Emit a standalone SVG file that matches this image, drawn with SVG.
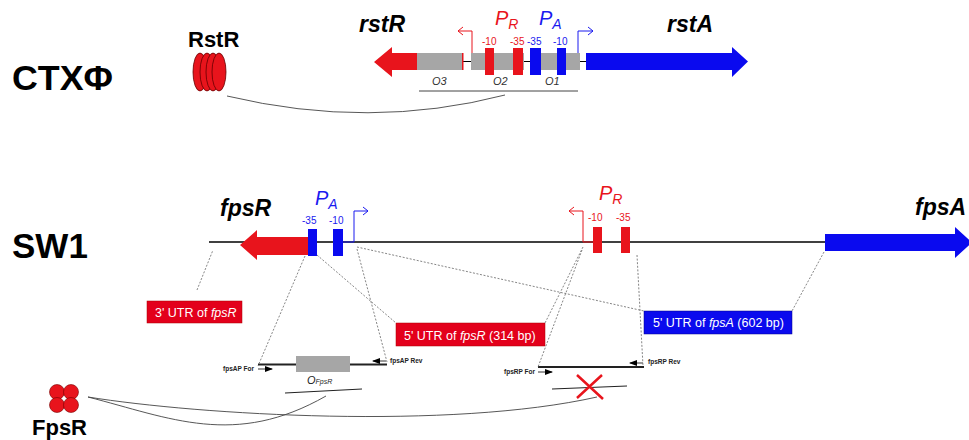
<svg xmlns="http://www.w3.org/2000/svg" width="969" height="440" viewBox="0 0 969 440">
<style>
text{font-family:"Liberation Sans",Arial,sans-serif}
.title{font-weight:bold;font-size:35px;fill:#000}
.prot{font-weight:bold;font-size:22px;fill:#000}
.gene{font-weight:bold;font-style:italic;font-size:23px;fill:#000}
.red{fill:#e8141c}
.blue{fill:#0a0aef}
.grey{fill:#a6a6a6}
.pr{fill:#e8141c;font-style:italic;font-size:20px}
.pa{fill:#1a1aef;font-style:italic;font-size:20px}
.sub{font-size:14px}
.numr{fill:#e8141c;font-size:10px}
.numb{fill:#1a1aef;font-size:10px}
.op{font-style:italic;font-size:11px;fill:#333}
.lbl{fill:#fff;font-size:12.5px}
.prim{font-weight:bold;font-size:6.5px;fill:#222}
.dot{fill:none;stroke:#777;stroke-width:0.9;stroke-dasharray:2 1.6}
.link{fill:none;stroke:#444;stroke-width:0.9}
.bentr{fill:none;stroke:#e8141c;stroke-width:1}
.bentb{fill:none;stroke:#1a1aef;stroke-width:1}
.axis{stroke:#000;stroke-width:1.6}
</style>
<defs>
<marker id="ah" markerWidth="8" markerHeight="6" refX="7" refY="3" orient="auto" markerUnits="userSpaceOnUse">
<path d="M0,0 L8,3 L0,6 Z" fill="#000"/>
</marker>
</defs>

<!-- titles -->
<g id="ctx-title"><text class="title" x="12" y="90" textLength="101" lengthAdjust="spacingAndGlyphs">CTXΦ</text></g>
<g id="sw1-title"><text class="title" x="12" y="258">SW1</text></g>

<!-- RstR protein -->
<g id="rstR-protein">
<text class="prot" x="188" y="47">RstR</text>
<ellipse class="red" cx="200" cy="72" rx="7" ry="19" stroke="#600" stroke-width="0.8"/>
<ellipse class="red" cx="207" cy="72" rx="7" ry="19" stroke="#600" stroke-width="0.8"/>
<ellipse class="red" cx="213" cy="72" rx="7" ry="19" stroke="#600" stroke-width="0.8"/>
<ellipse class="red" cx="219" cy="72" rx="7" ry="19" stroke="#600" stroke-width="0.8"/>
</g>

<!-- CTX construct -->
<g id="ctx-locus">
<line x1="460" y1="61.5" x2="590" y2="61.5" stroke="#000" stroke-width="1.2"/>
<path class="red" d="M374,62 L392,47 L392,53 L417,53 L417,70 L392,70 L392,77 Z"/>
<rect class="grey" x="417" y="53" width="46" height="17"/>
<rect class="red" x="462" y="53" width="1.5" height="17"/>
<rect class="grey" x="471" y="53" width="53" height="17"/>
<rect class="grey" x="530" y="53" width="50" height="17"/>
<rect class="red" x="485" y="48" width="9" height="27"/>
<rect class="red" x="513" y="48" width="10" height="27"/>
<rect class="blue" x="530" y="48" width="11" height="27"/>
<rect class="blue" x="557" y="48" width="9" height="27"/>
<path class="blue" d="M586,53 L732,53 L732,47 L748,61.5 L732,77 L732,70 L586,70 Z"/>
<path class="bentr" d="M472,53 V31 H458 M463,27 L458,31 L463,35"/>
<path class="bentb" d="M578,53 V31 H593 M588,27 L593,31 L588,35"/>
<text class="gene" x="359" y="32">rstR</text>
<text class="gene" x="667" y="32">rstA</text>
<text class="pr" x="495" y="25">P<tspan class="sub" dy="4">R</tspan></text>
<text class="pa" x="539" y="25">P<tspan class="sub" dy="4">A</tspan></text>
<text class="numr" x="482" y="45">-10</text>
<text class="numr" x="510" y="45">-35</text>
<text class="numb" x="527" y="45">-35</text>
<text class="numb" x="553" y="45">-10</text>
<text class="op" x="432" y="85">O3</text>
<text class="op" x="493" y="85">O2</text>
<text class="op" x="545" y="85">O1</text>
<line x1="419" y1="91" x2="578" y2="91" stroke="#444" stroke-width="1"/>
</g>

<!-- SW1 construct -->
<g id="sw1-locus">
<line class="axis" x1="209" y1="242" x2="826" y2="242"/>
<path class="red" d="M240,245 L257,230 L257,237 L308,237 L308,255 L257,255 L257,260 Z"/>
<rect class="blue" x="308" y="229" width="9" height="27"/>
<rect class="blue" x="333" y="229" width="10" height="27"/>
<path class="bentb" d="M343,242 H354 V211 H368 M363,207 L368,211 L363,215"/>
<text class="gene" x="220" y="216">fpsR</text>
<text class="pa" x="315" y="205">P<tspan class="sub" dy="4">A</tspan></text>
<text class="numb" x="302" y="224">-35</text>
<text class="numb" x="329" y="224">-10</text>
<rect class="red" x="593" y="227" width="9" height="26"/>
<rect class="red" x="621" y="227" width="9" height="26"/>
<path class="bentr" d="M593,242 H583 V211 H569 M574,207 L569,211 L574,215"/>
<text class="pr" x="599" y="200">P<tspan class="sub" dy="4">R</tspan></text>
<text class="numr" x="588" y="221">-10</text>
<text class="numr" x="616" y="221">-35</text>
<path class="blue" d="M825,234 L955,234 L955,227 L972,242.5 L955,258 L955,251 L825,251 Z"/>
<text class="gene" x="915" y="215">fpsA</text>
</g>

<!-- region labels -->
<g id="utr3-fpsR">
<rect x="147" y="301" width="95" height="22" fill="#e3001b" stroke="#a00" stroke-width="0.5"/>
<text class="lbl" x="155" y="316.5">3' UTR of <tspan font-style="italic">fpsR</tspan></text>
</g>
<g id="utr5-fpsR">
<rect x="396" y="323" width="149" height="23" fill="#e3001b" stroke="#a00" stroke-width="0.5"/>
<text class="lbl" x="404" y="339.5">5' UTR of <tspan font-style="italic">fpsR</tspan> (314 bp)</text>
</g>
<g id="utr5-fpsA">
<rect x="644" y="311" width="148" height="23" fill="#0a0aee" stroke="#008" stroke-width="0.5"/>
<text class="lbl" x="653" y="327">5' UTR of <tspan font-style="italic">fpsA</tspan> (602 bp)</text>
</g>

<!-- fpsAP probe -->
<g id="fpsAP-probe">
<line x1="258" y1="364.5" x2="387" y2="364.5" stroke="#222" stroke-width="2"/>
<rect class="grey" x="296" y="356" width="54" height="16"/>
<text class="prim" x="223" y="371">fpsAP For</text>
<line x1="258" y1="369" x2="272" y2="369" stroke="#000" stroke-width="0.8" marker-end="url(#ah)"/>
<line x1="386" y1="361" x2="373" y2="361" stroke="#000" stroke-width="0.8" marker-end="url(#ah)"/>
<text class="prim" x="390" y="363">fpsAP Rev</text>
<text x="307" y="384" font-style="italic" font-size="11" fill="#222">O<tspan font-size="7">FpsR</tspan></text>
<line x1="285" y1="393" x2="362" y2="389" stroke="#222" stroke-width="1.2"/>
</g>

<!-- fpsRP probe -->
<g id="fpsRP-probe">
<line x1="538" y1="367" x2="644" y2="367" stroke="#222" stroke-width="2"/>
<text class="prim" x="504" y="374">fpsRP For</text>
<line x1="538" y1="372" x2="552" y2="372" stroke="#000" stroke-width="0.8" marker-end="url(#ah)"/>
<line x1="643" y1="363" x2="630" y2="363" stroke="#000" stroke-width="0.8" marker-end="url(#ah)"/>
<text class="prim" x="648" y="364">fpsRP Rev</text>
<line x1="552" y1="389" x2="627" y2="386" stroke="#222" stroke-width="1.2"/>
<path d="M577,375 L603,399 M602,375 L577,398" stroke="#e8141c" stroke-width="2.5" fill="none"/>
</g>

<!-- FpsR protein -->
<g id="fpsR-protein">
<circle class="red" cx="57" cy="392" r="7.5" stroke="#700" stroke-width="0.6"/>
<circle class="red" cx="71" cy="392" r="7.5" stroke="#700" stroke-width="0.6"/>
<circle class="red" cx="57" cy="405" r="7.5" stroke="#700" stroke-width="0.6"/>
<circle class="red" cx="71" cy="405" r="7.5" stroke="#700" stroke-width="0.6"/>
<text class="prot" x="32" y="435">FpsR</text>
</g>

<!-- connectors -->
<g id="connectors">
<path class="link" d="M227,96 Q370,130 505,95"/>
<path class="link" d="M88,397 C170,418 235,448 326,396"/>
<path class="link" d="M88,397 C200,415 450,430 597,397"/>
<path class="dot" d="M197,290 L213,250"/>
<path class="dot" d="M305,256 L258,366"/>
<path class="dot" d="M317,255 L396,323"/>
<path class="dot" d="M357,249 L387,362"/>
<path class="dot" d="M357,247 L644,311"/>
<path class="dot" d="M583,247 L545,323"/>
<path class="dot" d="M582,250 L538,367"/>
<path class="dot" d="M637,255 L643,366"/>
<path class="dot" d="M824,252 L792,311"/>
</g>
</svg>
